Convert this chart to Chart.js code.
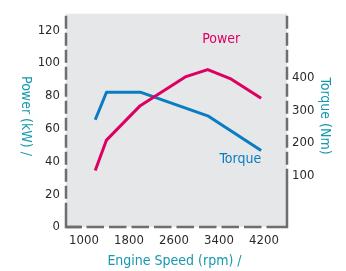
<!DOCTYPE html>
<html lang="en">
<head>
<meta charset="UTF-8">
<title>Engine Power and Torque</title>
<script src="https://cdn.jsdelivr.net/npm/chart.js"></script>
<style>
  html, body { margin: 0; padding: 0; background: #fff; }
</style>
</head>
<body>
<canvas id="curveChart" width="346" height="271"></canvas>
<script>
// values
var powerRpm = [1200, 1400, 2000, 2800, 3200, 3600, 4150];
var powerKw = [34.5, 53, 74, 91.5, 96, 90.5, 78.5];
var torqueRpm = [1200, 1400, 2000, 3200, 4150];
var torqueNm = [271, 355, 355, 283, 177];

var rpmTicks = [1000, 1800, 2600, 3400, 4200];
var powerTicks = [0, 20, 40, 60, 80, 100, 120];
var torqueTicks = [100, 200, 300, 400];

var magenta = '#dc0063';
var blue = '#0a7cc1';
var teal = '#1798ae';
var axisGrey = '#6d6e71';
var tickColor = '#2a2a2a';
var fontFam = "'DejaVu Sans Condensed', 'Liberation Sans', Arial, sans-serif";

function toPoints(xs, ys) {
  return xs.map(function(v, i) { return { x: v, y: ys[i] }; });
}

function fixTicks(list) {
  return function(scale) {
    scale.ticks = list.map(function(v) { return { value: v }; });
  };
}

function plain(v) { return String(v); }

// grey plot panel, dashed frame and the text labels
var decor = {
  id: 'decor',
  beforeDraw: function(chart) {
    var a = chart.chartArea, ctx = chart.ctx;
    ctx.save();
    ctx.fillStyle = '#e6e7e8';
    ctx.fillRect(a.left, a.top, a.right - a.left, a.bottom - a.top);
    ctx.restore();
  },
  afterDraw: function(chart) {
    var a = chart.chartArea, ctx = chart.ctx;
    var sx = chart.scales.x, sp = chart.scales.yPower, st = chart.scales.yTorque;
    ctx.save();
    ctx.strokeStyle = axisGrey;
    ctx.lineWidth = 2.5;

    // dashed sides
    ctx.setLineDash([13, 4]);
    ctx.lineDashOffset = 15;
    ctx.beginPath();
    ctx.moveTo(a.left, a.top); ctx.lineTo(a.left, a.bottom - 14);
    ctx.moveTo(a.right, a.top); ctx.lineTo(a.right, a.bottom - 50);
    ctx.stroke();
    ctx.setLineDash([17.5, 5]);
    ctx.lineDashOffset = 2;
    ctx.beginPath();
    ctx.moveTo(a.left, a.bottom); ctx.lineTo(a.right - 20, a.bottom);
    ctx.stroke();

    // solid corners
    ctx.setLineDash([]);
    ctx.beginPath();
    ctx.moveTo(a.left, a.bottom - 14); ctx.lineTo(a.left, a.bottom); ctx.lineTo(a.left + 16, a.bottom);
    ctx.moveTo(a.right - 20, a.bottom); ctx.lineTo(a.right, a.bottom); ctx.lineTo(a.right, a.bottom - 50);
    ctx.stroke();

    ctx.textAlign = 'center';
    ctx.textBaseline = 'middle';

    // curve names
    ctx.font = '14px ' + fontFam;
    ctx.fillStyle = magenta;
    ctx.fillText('Power', sx.getPixelForValue(3440), sp.getPixelForValue(114.5));
    ctx.fillStyle = blue;
    ctx.fillText('Torque', sx.getPixelForValue(3780), st.getPixelForValue(150));

    // axis titles
    ctx.font = '14px ' + fontFam;
    ctx.fillStyle = teal;
    ctx.fillText('Engine Speed (rpm) /', (a.left + a.right) / 2 - 2, 261);

    ctx.save();
    ctx.translate(26, 116);
    ctx.rotate(Math.PI / 2);
    ctx.fillText('Power (kW) /', 0, 0);
    ctx.restore();

    ctx.save();
    ctx.translate(325, 116);
    ctx.rotate(Math.PI / 2);
    ctx.fillText('Torque (Nm)', 0, 0);
    ctx.restore();

    ctx.restore();
  }
};

var tickFont = { family: fontFam, size: 13 };

new Chart(document.getElementById('curveChart').getContext('2d'), {
  type: 'line',
  data: {
    datasets: [{
      label: 'Power',
      data: toPoints(powerRpm, powerKw),
      yAxisID: 'yPower',
      borderColor: magenta,
      borderWidth: 3,
      borderJoinStyle: 'round',
      pointRadius: 0,
      tension: 0,
      fill: false
    }, {
      label: 'Torque',
      data: toPoints(torqueRpm, torqueNm),
      yAxisID: 'yTorque',
      borderColor: blue,
      borderWidth: 3,
      borderJoinStyle: 'round',
      pointRadius: 0,
      tension: 0,
      fill: false
    }]
  },
  options: {
    responsive: false,
    animation: false,
    events: [],
    layout: { padding: { top: 6, left: 0, right: 0, bottom: 0 } },
    plugins: {
      legend: { display: false },
      tooltip: { enabled: false }
    },
    scales: {
      x: {
        type: 'linear',
        position: 'bottom',
        min: 680,
        max: 4610,
        afterBuildTicks: fixTicks(rpmTicks),
        afterFit: function(s) { s.height = 44; },
        grid: { display: false, drawTicks: false },
        border: { display: false },
        ticks: { color: tickColor, font: tickFont, padding: 6, maxRotation: 0, autoSkip: false, callback: plain }
      },
      yPower: {
        type: 'linear',
        position: 'left',
        min: 0,
        max: 130,
        afterBuildTicks: fixTicks(powerTicks),
        afterFit: function(s) { s.width = 66; },
        grid: { display: false, drawTicks: false },
        border: { display: false },
        ticks: { color: tickColor, font: tickFont, padding: 6, callback: plain }
      },
      yTorque: {
        type: 'linear',
        position: 'right',
        min: -56,
        max: 594,
        afterBuildTicks: fixTicks(torqueTicks),
        afterFit: function(s) { s.width = 59; },
        grid: { display: false, drawTicks: false },
        border: { display: false },
        ticks: { color: tickColor, font: tickFont, padding: 5, callback: plain }
      }
    }
  },
  plugins: [decor]
});
</script>
</body>
</html>
